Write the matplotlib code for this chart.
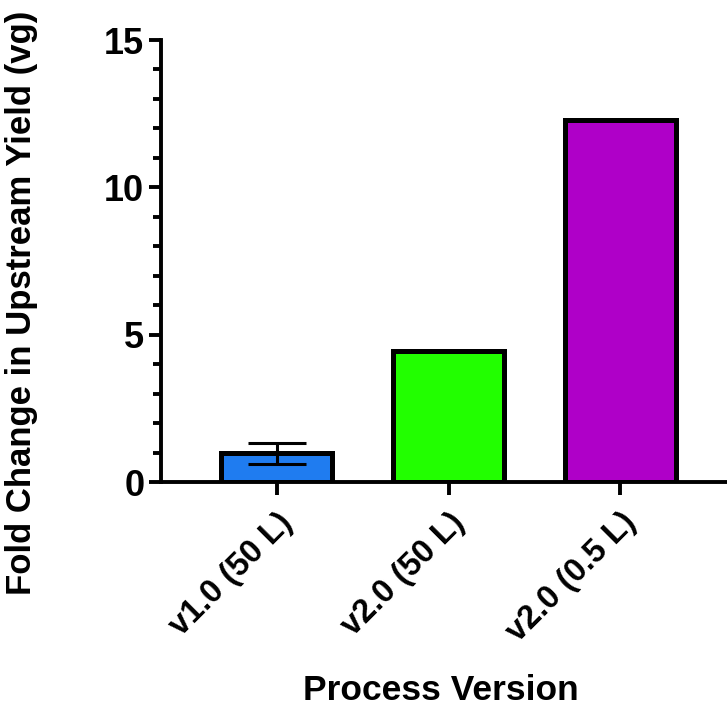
import numpy as np
import matplotlib

matplotlib.use("Agg")
import matplotlib.pyplot as plt
from matplotlib.ticker import MultipleLocator

plt.rcParams["font.family"] = ["Liberation Sans", "DejaVu Sans"]
plt.rcParams["font.weight"] = "bold"

CATEGORIES = ["v1.0 (50 L)", "v2.0 (50 L)", "v2.0 (0.5 L)"]
FOLD_CHANGE = [0.97, 4.45, 12.3]
ERROR = [0.36, 0.0, 0.0]
COLORS = ["#1F7CF0", "#22FF00", "#AF00C8"]

fig = plt.figure(figsize=(7.27, 7.16), dpi=100)
ax = fig.add_axes([0.2215, 0.3268, 0.7785, 0.6173])

x = np.arange(len(CATEGORIES))
ax.bar(x, FOLD_CHANGE, width=0.645, color=COLORS, edgecolor="black", linewidth=3.6, zorder=2)
ax.errorbar(x[:1], FOLD_CHANGE[:1], yerr=ERROR[:1], fmt="none", ecolor="black",
            elinewidth=2.2, capsize=21, capthick=2.2, zorder=3)

ax.set_xlim(-0.674, 2.62)
ax.set_ylim(0, 15)
ax.yaxis.set_major_locator(MultipleLocator(5))
ax.yaxis.set_minor_locator(MultipleLocator(1))
ax.set_xticks(x)
ax.set_xticklabels(CATEGORIES, rotation=45, ha="right", rotation_mode="anchor")

for side in ("top", "right"):
    ax.spines[side].set_visible(False)
for side in ("left", "bottom"):
    ax.spines[side].set_linewidth(2.8)

ax.tick_params(axis="both", which="major", length=9, width=2.8, labelsize=26, pad=3)
ax.tick_params(axis="y", which="minor", length=6, width=2.8)
ax.tick_params(axis="x", which="major", labelsize=23.5, pad=9)

ax.set_ylabel("Fold Change in Upstream Yield (vg)", fontsize=25, fontweight="bold")
ax.yaxis.set_label_coords(-0.217, 0.406)
fig.text(0.606, 0.036, "Process Version", fontsize=25.5, fontweight="bold", ha="center", va="center")

fig.savefig("out.png", dpi=100)
